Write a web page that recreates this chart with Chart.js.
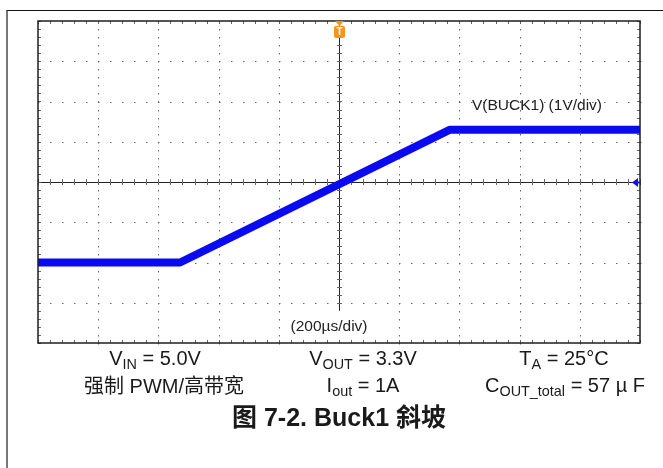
<!DOCTYPE html>
<html>
<head>
<meta charset="utf-8">
<script src="https://cdn.jsdelivr.net/npm/chart.js@4"></script>
<style>
  html, body { margin: 0; padding: 0; background: #fff; }
  #wrap { position: relative; width: 663px; height: 468px; overflow: hidden;
          font-family: "Liberation Sans", Arial, "Noto Sans CJK SC", sans-serif; color: #1a1a1a; }
  #frame { position: absolute; left: 6px; top: 10px; width: 670px; height: 470px;
           border-left: 2px solid #777; border-top: 1px solid #111; }
  canvas { position: absolute; left: 0; top: 0; }
  .t { position: absolute; white-space: nowrap; transform: translate(-50%, -50%); font-size: 20px; line-height: 1; }
  .t sub { font-size: 0.72em; vertical-align: -0.3em; line-height: 0; }
  .cjk { font-family: "Noto Sans CJK SC", sans-serif; }
  .lbl { position: absolute; white-space: nowrap; transform: translate(-50%, -50%); font-size: 15.5px; color: #222; }
  .title { font-weight: bold; font-size: 25px; }
</style>
</head>
<body>
<div id="wrap">
  <div id="frame"></div>
  <canvas id="myChart" width="663" height="468"></canvas>
  <div class="lbl" style="left:537px;top:105px;">V(BUCK1) (1V/div)</div>
  <div class="lbl" style="left:329px;top:326px;">(200µs/div)</div>

  <div class="t" style="left:155px;top:358px;">V<sub>IN</sub> = 5.0V</div>
  <div class="t" style="left:363px;top:358px;">V<sub>OUT</sub> = 3.3V</div>
  <div class="t" style="left:564px;top:358px;">T<sub>A</sub> = 25°C</div>
  <div class="t" style="left:164px;top:385px;"><span class="cjk">强制</span> PWM/<span class="cjk">高带宽</span></div>
  <div class="t" style="left:363px;top:385px;">I<sub>out</sub> = 1A</div>
  <div class="t" style="left:565px;top:385px;">C<sub>OUT_total</sub> = 57 µ F</div>
  <div class="t title" style="left:339px;top:416px;"><span class="cjk">图</span> 7-2. Buck1 <span class="cjk">斜坡</span></div>
</div>
<script>
// trace of V(BUCK1): time in µs, voltage in V
var timeUs = [-1000, -528, 369, 1000];
var vBuck1 = [0, 0, 3.3, 3.3];

// scope divisions
var xDivs = [-1000, -800, -600, -400, -200, 0, 200, 400, 600, 800, 1000];
var yDivs = [-2, -1, 0, 1, 2, 3, 4, 5, 6];
var xMinor = 40;   // µs per minor tick
var yMinor = 0.2;  // V per minor tick

var scopeGrid = {
  id: 'scopeGrid',
  beforeDatasetsDraw: function(chart) {
    var ctx = chart.ctx, a = chart.chartArea;
    var x = chart.scales.x, y = chart.scales.y;
    var cx = x.getPixelForValue(0), cy = y.getPixelForValue(2);
    var v, px, py;
    ctx.save();

    // dotted division lines
    ctx.fillStyle = '#666';
    xDivs.forEach(function(d) {
      if (d === 0 || d === xDivs[0] || d === xDivs[xDivs.length - 1]) return;
      px = Math.round(x.getPixelForValue(d));
      for (v = yDivs[0]; v <= yDivs[yDivs.length - 1] + 1e-6; v += yMinor) {
        py = Math.round(y.getPixelForValue(v));
        ctx.fillRect(px, py, 1, 1.5);
      }
    });
    yDivs.forEach(function(d) {
      if (d === 2 || d === yDivs[0] || d === yDivs[yDivs.length - 1]) return;
      py = Math.round(y.getPixelForValue(d));
      for (v = xDivs[0]; v <= xDivs[xDivs.length - 1] + 1e-6; v += xMinor) {
        px = Math.round(x.getPixelForValue(v));
        ctx.fillRect(px, py, 1.5, 1);
      }
    });

    // centre axes
    ctx.strokeStyle = '#222';
    ctx.lineWidth = 1;
    ctx.beginPath();
    ctx.moveTo(a.left, Math.round(cy) + 0.5);
    ctx.lineTo(a.right, Math.round(cy) + 0.5);
    ctx.moveTo(Math.round(cx) + 0.5, a.top);
    ctx.lineTo(Math.round(cx) + 0.5, y.getPixelForValue(-1.2));
    ctx.stroke();

    // minor ticks on centre axes and frame
    ctx.strokeStyle = '#666';
    ctx.beginPath();
    for (v = xDivs[0]; v <= xDivs[xDivs.length - 1] + 1e-6; v += xMinor) {
      px = Math.round(x.getPixelForValue(v)) + 0.5;
      ctx.moveTo(px, cy - 3); ctx.lineTo(px, cy + 3);
      ctx.moveTo(px, a.top); ctx.lineTo(px, a.top + 3);
      ctx.moveTo(px, a.bottom); ctx.lineTo(px, a.bottom - 3);
    }
    for (v = yDivs[0]; v <= yDivs[yDivs.length - 1] + 1e-6; v += yMinor) {
      py = Math.round(y.getPixelForValue(v)) + 0.5;
      if (py < y.getPixelForValue(-1.2)) { ctx.moveTo(cx - 2, py); ctx.lineTo(cx + 3, py); }
      ctx.moveTo(a.left, py); ctx.lineTo(a.left + 3, py);
      ctx.moveTo(a.right, py); ctx.lineTo(a.right - 3, py);
    }
    ctx.stroke();
    ctx.restore();
  },
  afterDatasetsDraw: function(chart) {
    var ctx = chart.ctx, a = chart.chartArea;
    var x = chart.scales.x, y = chart.scales.y;
    var cx = x.getPixelForValue(0), cy = y.getPixelForValue(2);
    ctx.save();
    // frame
    ctx.strokeStyle = '#1e1e1e';
    ctx.lineWidth = 1.5;
    ctx.strokeRect(a.left, a.top, a.right - a.left, a.bottom - a.top);

    // trigger marker
    ctx.fillStyle = '#f7941d';
    ctx.beginPath();
    ctx.moveTo(cx - 4, a.top); ctx.lineTo(cx + 5, a.top); ctx.lineTo(cx + 0.5, a.top + 5);
    ctx.closePath(); ctx.fill();
    ctx.beginPath();
    ctx.roundRect(cx - 5, a.top + 5, 11, 12, 2);
    ctx.fill();
    ctx.fillStyle = '#fff';
    ctx.font = 'bold 10px "Liberation Sans"';
    ctx.textAlign = 'center';
    ctx.textBaseline = 'middle';
    ctx.fillText('T', cx + 0.5, a.top + 11.5);

    // channel marker at right
    ctx.fillStyle = '#1010f0';
    ctx.beginPath();
    ctx.moveTo(a.right - 8, cy + 0.5);
    ctx.lineTo(a.right - 2, cy - 4);
    ctx.lineTo(a.right - 2, cy + 5);
    ctx.closePath(); ctx.fill();
    ctx.fillRect(a.right - 3, cy - 0.5, 3, 2);
    ctx.restore();
  }
};

var ctx = document.getElementById('myChart').getContext('2d');
var myChart = new Chart(ctx, {
  type: 'line',
  data: {
    datasets: [{
      label: 'V(BUCK1)',
      data: timeUs.map(function(t, i) { return {x: t, y: vBuck1[i]}; }),
      borderColor: '#0a0af2',
      borderWidth: 8,
      pointRadius: 0,
      tension: 0,
      borderJoinStyle: 'round'
    }]
  },
  options: {
    responsive: false,
    animation: false,
    devicePixelRatio: 1,
    layout: { padding: { left: 38, right: 23, top: 21, bottom: 125 } },
    plugins: { legend: { display: false }, tooltip: { enabled: false } },
    scales: {
      x: { type: 'linear', min: -1000, max: 1000, display: false },
      y: { min: -2, max: 6, display: false }
    }
  },
  plugins: [scopeGrid]
});
</script>
</body>
</html>
